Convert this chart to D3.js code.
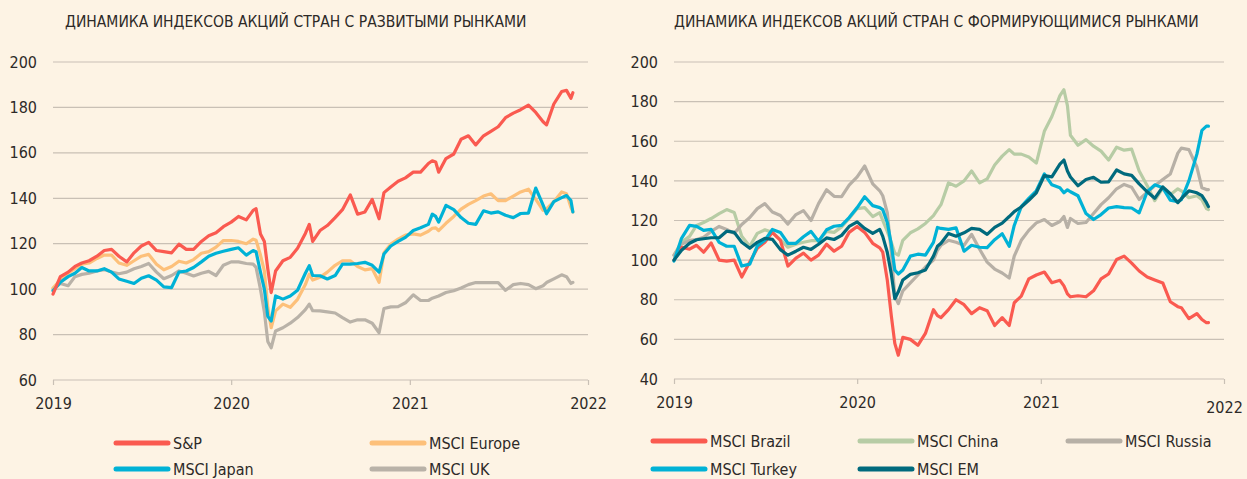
<!DOCTYPE html>
<html>
<head>
<meta charset="utf-8">
<script src="https://cdn.jsdelivr.net/npm/d3@7/dist/d3.min.js"></script>
<style>
  body { margin: 0; background: #fdf3e4; }
  svg text { font-family: "DejaVu Sans Condensed", "Liberation Sans", sans-serif; fill: #2d2a28; }
</style>
</head>
<body>
<script>
// общая шкала дат (примерно раз в полмесяца, чаще вокруг обвала 2020)
const dates = [
  '2019-01-01','2019-01-16','2019-02-01','2019-02-15','2019-03-01','2019-03-16','2019-04-01','2019-04-16','2019-05-01','2019-05-16',
  '2019-06-01','2019-06-16','2019-07-01','2019-07-16','2019-08-01','2019-08-16','2019-09-01','2019-09-16','2019-10-01','2019-10-16',
  '2019-11-01','2019-11-16','2019-12-01','2019-12-16','2020-01-01','2020-01-16','2020-02-01','2020-02-15','2020-02-21','2020-03-01',
  '2020-03-09','2020-03-16','2020-03-23','2020-04-01','2020-04-16','2020-05-01','2020-05-16','2020-06-01','2020-06-09','2020-06-16',
  '2020-07-01','2020-07-16','2020-08-01','2020-08-16','2020-09-01','2020-09-16','2020-10-01','2020-10-16','2020-10-30','2020-11-09',
  '2020-11-23','2020-12-08','2020-12-23','2021-01-08','2021-01-23','2021-02-08','2021-02-16','2021-02-23','2021-03-01','2021-03-16',
  '2021-04-01','2021-04-16','2021-05-01','2021-05-16','2021-06-01','2021-06-16','2021-07-01','2021-07-16','2021-08-01','2021-08-16',
  '2021-09-01','2021-09-16','2021-10-01','2021-10-08','2021-10-23','2021-11-08','2021-11-18','2021-11-27','2021-12-01'
];

const yearTicks = ['2019', '2020', '2021', '2022'];
const devTicks  = [60, 80, 100, 120, 140, 160, 180, 200];
const emTicks   = [40, 60, 80, 100, 120, 140, 160, 180, 200];

const devTitle = 'ДИНАМИКА ИНДЕКСОВ АКЦИЙ СТРАН С РАЗВИТЫМИ РЫНКАМИ';
const emTitle  = 'ДИНАМИКА ИНДЕКСОВ АКЦИЙ СТРАН С ФОРМИРУЮЩИМИСЯ РЫНКАМИ';

// развитые рынки
const spValues = [
  97.8, 105.5, 107.5, 110, 111.5, 112.5, 114.5, 117, 117.5, 114.5,
  112, 116, 119, 120.6, 117, 116.5, 116, 119.8, 117.5, 117.5,
  121, 123.5, 124.8, 127.5, 129.5, 132, 130.5, 134.7, 135.4, 124.3,
  121, 109, 98.5, 108, 112.5, 114, 118, 124.5, 128.5, 121,
  125.8, 128, 131.5, 135, 141.5, 133, 134, 139.5, 131, 142.5,
  145, 147.5, 149, 151.5, 151.5, 155.3, 156.5, 156, 151.5, 157.5,
  159.5, 166, 167.5, 163.5, 167.5, 169.5, 171.5, 175.5, 177.5, 179,
  181, 177.8, 173.7, 172.3, 181.5, 187, 187.5, 184, 186.5
];
const europeValues = [
  100.5, 104, 107, 109, 111, 111.5, 113.5, 115, 115, 111.5,
  110.5, 112.5, 114.5, 115.3, 111, 108.5, 110, 112.3, 111.5, 113,
  115.8, 116.5, 118.5, 121.4, 121.4, 121, 120, 122, 121.5, 115,
  108, 92, 83, 90.4, 93.4, 92, 95.5, 102, 106.6, 104,
  105.2, 107.5, 110.5, 112.5, 112.5, 110, 108.5, 109, 103, 116,
  119.8, 122, 123.8, 124.3, 123.8, 125.5, 126.8, 127, 125.8, 129,
  132, 135.2, 137.3, 139, 141, 142, 139, 139, 141, 142.8,
  144, 139.5, 134.7, 135.3, 138.5, 142.8, 142, 136, 134
];
const japanValues = [
  99.3, 103, 105.5, 107, 109.5, 108, 108, 109, 107.5, 104.5,
  103.5, 102.5, 104.8, 105.9, 104, 101, 100.7, 107.5, 108, 109.5,
  112, 114.5, 115.8, 116.7, 117.5, 118.2, 115, 117, 116.5, 107.5,
  100, 88, 86, 97, 95.6, 97, 99.5, 107, 110.3, 106,
  105.9, 104.5, 106, 111, 111, 111.3, 111.8, 110.5, 107.5, 115.5,
  119, 121, 122.8, 125.8, 127, 128.5, 133, 132, 129.5, 136.9,
  135, 131.5, 129, 128.5, 134.5, 133.5, 134, 132.5, 131.5, 133.3,
  133.5, 144.5, 137, 133.2, 138.5, 140.3, 141.2, 139, 134
];
const ukValues = [
  100, 102.5, 101.5, 105.5, 106.5, 107, 108, 108.6, 107.5, 106.8,
  107.5, 109, 110, 111.3, 107.5, 104.6, 106, 108, 107, 105.8,
  107, 107.8, 106, 110.5, 112, 112, 111.3, 111, 109.6, 100,
  90, 77, 74.2, 81.6, 83, 85, 87.5, 91, 93.4, 90.5,
  90.4, 90, 89.5, 87.5, 85.5, 86.5, 86.5, 85, 80.8, 91.5,
  92.2, 92.3, 94, 97.5, 95, 95, 96, 96.5, 97, 98.5,
  99.3, 100.5, 102, 102.9, 102.9, 102.9, 102.9, 99.5, 102, 102.5,
  102, 100.2, 101.5, 102.9, 104.5, 106.3, 105.5, 102.5, 103
];

// формирующиеся рынки
const brazilValues = [
  100, 106.5, 105.5, 107.5, 104, 108.7, 100, 99.5, 100, 91.5,
  99, 106, 109, 114, 110, 97, 101, 103.5, 100, 102.5,
  108, 104.5, 107, 114, 117, 114, 108.5, 106.2, 104, 90,
  72, 58, 52, 61, 60, 57, 63, 75, 72, 71,
  75, 80, 77.5, 73, 76, 74.5, 67, 71, 67, 78.5,
  81.8, 90.5, 92.5, 94, 88.6, 89.8, 87, 83, 81.5, 82,
  81.5, 84.5, 90.5, 93, 100.3, 102, 98.5, 94.5, 91.5, 90,
  88.5, 79, 76.5, 76, 70.5, 73, 70, 68.4, 68.5
];
const chinaValues = [
  102.5, 109, 112, 117.5, 119, 121, 123.5, 125.5, 124, 112,
  107, 113.5, 115.3, 114, 110.3, 106.5, 108, 109, 109.8, 109.8,
  114.5, 114, 116.8, 121, 126, 126.5, 122, 124, 120, 114.5,
  109, 103.5, 102.5, 110, 113.8, 115.8, 118.5, 122.5, 125.5, 128,
  139, 137.3, 140, 145, 139, 141, 148, 152.5, 155.8, 153.5,
  153.5, 152, 149, 165, 172.5, 183, 186, 178, 163, 158,
  160.8, 157.5, 155, 150.5, 157, 155.5, 156, 145, 137.5, 130,
  136.5, 133, 136, 135, 131.5, 132.5, 130.5, 126, 125.5
];
const russiaValues = [
  102.5, 108, 110, 110.4, 111.5, 114.5, 117, 115.5, 113.5, 118,
  121.5, 126, 128.5, 124.3, 122.5, 118.2, 123, 125, 120, 128.5,
  135.5, 132.2, 132, 137.8, 142, 147.5, 138.5, 135, 132.5, 124,
  104, 82, 78, 84.5, 88.5, 92.5, 96.5, 100, 105, 107.5,
  110, 109, 107.5, 113, 105.5, 99, 95.5, 93.5, 91, 102,
  110, 115, 118.8, 120.5, 117.5, 119.5, 122, 116.5, 121, 118.5,
  119, 123.5, 128, 131.5, 136, 138.2, 136.8, 130.6, 134.3, 137.5,
  140.7, 143.5, 154, 156.5, 155.8, 147, 136.5, 135.6, 135.6
];
const turkeyValues = [
  99.5, 111, 117.5, 117, 115, 115.5, 109, 107, 107, 97,
  98, 107.2, 110, 115.5, 114, 108.5, 108.5, 111.8, 114.5, 109.5,
  115.3, 117.1, 117.5, 121.5, 126.5, 132, 127.5, 126.5, 125.5, 119,
  108, 95, 93, 95, 102, 103, 102.5, 109, 116.5, 116,
  115.5, 116.3, 104.5, 107.5, 106.5, 106.3, 110.3, 113.3, 107, 117.5,
  127, 131.2, 135, 143.5, 138, 136.5, 134, 135.5, 134.5, 132.5,
  123.5, 120.5, 123, 126.3, 127, 126.5, 126.3, 123.9, 134.5, 138,
  136.5, 130.3, 129.5, 130.5, 140, 153.5, 165.5, 167.6, 167.6
];
const emValues = [
  100, 105, 108.5, 110.3, 110.8, 111.3, 111.3, 114.6, 114, 109,
  106, 109, 111, 110.5, 105.3, 102.5, 104.5, 106.5, 105.4, 108,
  111.2, 110.4, 112.5, 117, 119.3, 116, 113.5, 115.5, 112, 104,
  93, 80.5, 84, 90, 92.8, 93.6, 95, 102, 107, 108.5,
  113.5, 112.1, 113.8, 116, 115.5, 113, 116.5, 118.7, 122, 124.5,
  126.8, 130.2, 134, 142.7, 142, 148.5, 150.5, 145, 142, 137.5,
  140.7, 141.8, 139.3, 139.5, 145.5, 143.5, 142.8, 138.5, 134.5, 131.2,
  137, 133.5, 129, 131, 135, 134, 132.5, 129, 127
];

const parseDate = d3.timeParse('%Y-%m-%d');
const parseYear = d3.timeParse('%Y');

const svg = d3.select('body').append('svg')
    .attr('width', 1247)
    .attr('height', 479);

svg.append('rect')
    .attr('width', 1247)
    .attr('height', 479)
    .attr('fill', '#fdf3e4');

// РИСУЕТ ОДНУ ПАНЕЛЬ (сетка, оси, линии, легенда)
const drawPanel = function(cfg) {
  const x = d3.scaleTime()
      .domain([parseYear(yearTicks[0]), parseYear(yearTicks[yearTicks.length - 1])])
      .range([cfg.left, cfg.right]);
  const y = d3.scaleLinear()
      .domain([cfg.ticks[0], cfg.ticks[cfg.ticks.length - 1]])
      .range([cfg.bottom, cfg.top]);

  const g = svg.append('g');

  g.append('text')
      .attr('x', cfg.titleX)
      .attr('y', 27)
      .style('font-size', '15.5px')
      .text(cfg.title);

  // горизонтальная сетка
  g.append('g')
      .selectAll('line')
      .data(cfg.ticks)
      .enter().append('line')
      .attr('x1', cfg.left)
      .attr('x2', cfg.right)
      .attr('y1', d => y(d))
      .attr('y2', d => y(d))
      .attr('stroke', '#c9c0b5')
      .attr('stroke-width', 1.2);

  // подписи оси Y
  const yAxis = g.append('g')
      .attr('transform', 'translate(' + cfg.left + ',0)')
      .call(d3.axisLeft(y).tickValues(cfg.ticks).tickSize(0).tickPadding(16));
  yAxis.select('.domain').remove();
  yAxis.selectAll('text').style('font-size', '16px').attr('fill', '#2d2a28');

  // ось X
  const xAxis = g.append('g')
      .attr('transform', 'translate(0,' + cfg.bottom + ')')
      .call(d3.axisBottom(x)
        .tickValues(yearTicks.map(parseYear))
        .tickSize(5)
        .tickPadding(13)
        .tickFormat(d3.timeFormat('%Y')));
  xAxis.select('.domain').remove();
  xAxis.selectAll('line').attr('stroke', '#c9c0b5').attr('stroke-width', 1.2);
  xAxis.selectAll('text').style('font-size', '16px').attr('fill', '#2d2a28')
      .attr('dy', (d, i) => (cfg.lastYearDrop && i === yearTicks.length - 1) ? '1em' : '0.71em');

  const line = d3.line()
      .x(d => x(d.date))
      .y(d => y(d.value));

  cfg.series.forEach(s => {
    const rows = dates.map((d, i) => ({date: parseDate(d), value: s.values[i]}));
    g.append('path')
        .datum(rows)
        .attr('d', line)
        .attr('fill', 'none')
        .attr('stroke', s.color)
        .attr('stroke-width', 3.2)
        .attr('stroke-linejoin', 'round')
        .attr('stroke-linecap', 'round');
  });

  // легенда
  const leg = g.selectAll('.leg')
      .data(cfg.legend)
      .enter().append('g')
      .attr('transform', d => 'translate(' + d.x + ',' + d.y + ')');
  leg.append('line')
      .attr('x1', 0)
      .attr('x2', 52)
      .attr('stroke', d => d.color)
      .attr('stroke-width', 5)
      .attr('stroke-linecap', 'round');
  leg.append('text')
      .attr('x', 57)
      .attr('dy', '0.36em')
      .style('font-size', '16px')
      .text(d => d.name);
};

const devSeries = [
  {name: 'MSCI UK', values: ukValues, color: '#b9b2a8'},
  {name: 'MSCI Europe', values: europeValues, color: '#fdc07a'},
  {name: 'MSCI Japan', values: japanValues, color: '#00b2d6'},
  {name: 'S&P', values: spValues, color: '#fa5a50'}
];

const emSeries = [
  {name: 'MSCI China', values: chinaValues, color: '#b7cca5'},
  {name: 'MSCI Russia', values: russiaValues, color: '#b7b0a6'},
  {name: 'MSCI Brazil', values: brazilValues, color: '#fa5a50'},
  {name: 'MSCI Turkey', values: turkeyValues, color: '#00b2d6'},
  {name: 'MSCI EM', values: emValues, color: '#006a7d'}
];

drawPanel({
  title: devTitle, titleX: 65,
  left: 53, right: 588, top: 62, bottom: 380,
  ticks: devTicks, series: devSeries,
  legend: [
    {name: 'S&P', color: '#fa5a50', x: 116, y: 443},
    {name: 'MSCI Europe', color: '#fdc07a', x: 372, y: 443},
    {name: 'MSCI Japan', color: '#00b2d6', x: 116, y: 469},
    {name: 'MSCI UK', color: '#b9b2a8', x: 372, y: 469}
  ]
});

drawPanel({
  title: emTitle, titleX: 674,
  left: 674, right: 1224, top: 62, bottom: 379,
  ticks: emTicks, series: emSeries, lastYearDrop: true,
  legend: [
    {name: 'MSCI Brazil', color: '#fa5a50', x: 653, y: 441},
    {name: 'MSCI China', color: '#b7cca5', x: 860, y: 441},
    {name: 'MSCI Russia', color: '#b7b0a6', x: 1068, y: 441},
    {name: 'MSCI Turkey', color: '#00b2d6', x: 653, y: 469},
    {name: 'MSCI EM', color: '#006a7d', x: 860, y: 469}
  ]
});
</script>
</body>
</html>
